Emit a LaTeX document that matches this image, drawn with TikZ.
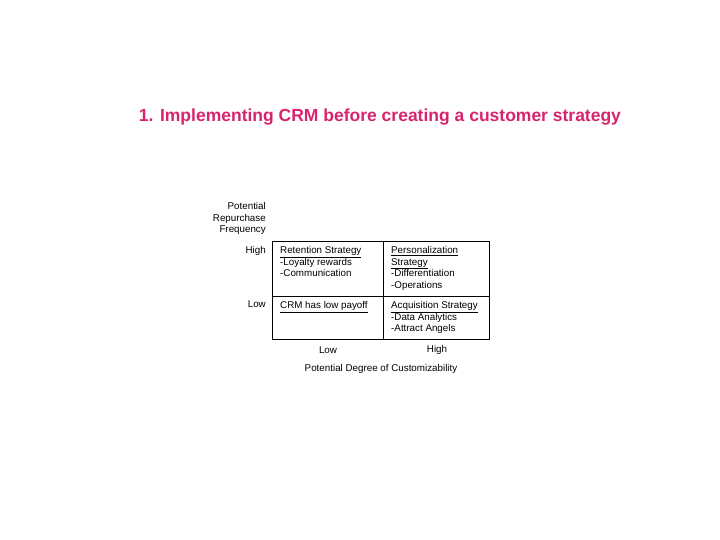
\documentclass[tikz,border=0pt]{standalone}
\usepackage{fontspec}
\setmainfont{Liberation Sans}
\definecolor{titlec}{HTML}{D6246E}
\begin{document}
\begin{tikzpicture}[x=1pt,y=-1pt,
  lab/.style={font=\fontsize{9.8}{11.8}\selectfont,inner sep=0pt},
  cell/.style={lab,anchor=north west,align=left}]
\useasboundingbox (0,0) rectangle (720,540);
\node[font=\fontsize{17.5}{20}\selectfont\bfseries,text=titlec] (title) at (380,117) {1. Implementing CRM before creating a customer strategy};
\draw[line width=0.8pt] (272,241) rectangle (489,339);
\draw[line width=0.8pt] (383,241) -- (383,339);
\draw[line width=0.8pt] (272,296) -- (489,296);
\node[lab,align=right,anchor=north east] (yax) at (266,202) {Potential\\Repurchase\\Frequency};
\node[lab,anchor=north east] (hi) at (266,246) {High};
\node[lab,anchor=north east] (lo) at (266,301) {Low};
\node[cell] (c1) at (280,246) {\underline{Retention Strategy}\\-Loyalty rewards\\-Communication};
\node[cell] (c2) at (391,246) {\underline{Personalization}\\\underline{Strategy}\\-Differentiation\\-Operations};
\node[cell] (c3) at (280,301) {\underline{CRM has low payoff}};
\node[cell] (c4) at (391,301) {\underline{Acquisition Strategy}\\-Data Analytics\\-Attract Angels};
\node[lab] (xl) at (328,350) {Low};
\node[lab] (xh) at (437,350) {High};
\node[lab] (xax) at (381,369) {Potential Degree of Customizability};
\end{tikzpicture}
\end{document}
